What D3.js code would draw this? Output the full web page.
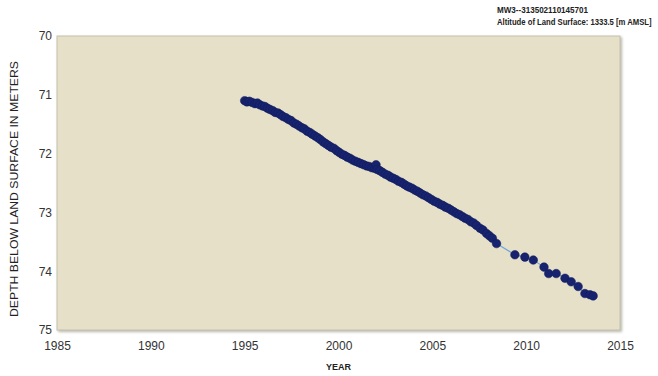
<!DOCTYPE html>
<html>
<head>
<meta charset="utf-8">
<script src="https://cdn.jsdelivr.net/npm/d3@7"></script>
<style>
  html, body { margin: 0; padding: 0; background: #fff; }
  svg { display: block; font-family: "Liberation Sans", Arial, sans-serif; }
</style>
</head>
<body>
<svg id="chart" width="658" height="376"></svg>
<script>
// Water-level measurements for well MW3 (decimal year, depth below land surface in m)
const years = [
  1995.00, 1995.12, 1995.25, 1995.40, 1995.55, 1995.68, 1995.80, 1995.95,
  1996.08, 1996.22, 1996.35, 1996.50, 1996.63, 1996.78, 1996.92,
  1997.05, 1997.20, 1997.34, 1997.48, 1997.62, 1997.76, 1997.90,
  1998.05, 1998.18, 1998.33, 1998.47, 1998.60, 1998.75, 1998.90,
  1999.03, 1999.18, 1999.32, 1999.46, 1999.60, 1999.75, 1999.90,
  2000.04, 2000.18, 2000.32, 2000.47, 2000.61, 2000.75, 2000.90,
  2001.05, 2001.20, 2001.35, 2001.50, 2001.64, 2001.78, 2001.92,
  2002.00, 2002.06, 2002.20, 2002.35, 2002.50, 2002.64, 2002.78, 2002.92,
  2003.06, 2003.20, 2003.35, 2003.50, 2003.64, 2003.78, 2003.92,
  2004.06, 2004.20, 2004.35, 2004.50, 2004.65, 2004.80, 2004.95,
  2005.10, 2005.25, 2005.40, 2005.55, 2005.70, 2005.85,
  2006.00, 2006.15, 2006.30, 2006.45, 2006.60, 2006.75, 2006.90,
  2007.05, 2007.20, 2007.35, 2007.54, 2007.70, 2007.89,
  2008.05, 2008.20, 2008.42,
  2009.40, 2009.93, 2010.38, 2010.95, 2011.20, 2011.60,
  2012.07, 2012.40, 2012.77, 2013.13, 2013.40, 2013.57
];
const depths = [
  71.10, 71.12, 71.11, 71.13, 71.15, 71.14, 71.17, 71.19,
  71.20, 71.23, 71.25, 71.27, 71.30, 71.31, 71.34,
  71.37, 71.39, 71.42, 71.44, 71.48, 71.50, 71.53,
  71.56, 71.58, 71.62, 71.64, 71.67, 71.70, 71.73,
  71.76, 71.80, 71.83, 71.86, 71.89, 71.91, 71.95,
  71.98, 72.01, 72.03, 72.06, 72.08, 72.11, 72.13,
  72.15, 72.17, 72.19, 72.21, 72.22, 72.24, 72.25,
  72.19, 72.27, 72.29, 72.32, 72.35, 72.37, 72.40, 72.42,
  72.44, 72.47, 72.49, 72.52, 72.55, 72.57, 72.59,
  72.62, 72.64, 72.67, 72.70, 72.72, 72.75, 72.78,
  72.81, 72.83, 72.86, 72.88, 72.91, 72.93,
  72.96, 72.99, 73.02, 73.04, 73.07, 73.10, 73.12,
  73.16, 73.18, 73.22, 73.27, 73.30, 73.36,
  73.40, 73.44, 73.53,
  73.72, 73.76, 73.81, 73.93, 74.04, 74.04,
  74.12, 74.18, 74.26, 74.38, 74.40, 74.42
];
const xTicks = [1985, 1990, 1995, 2000, 2005, 2010, 2015];
const yTicks = [70, 71, 72, 73, 74, 75];
const wellId = "MW3--313502110145701";
const altitudeLabel = "Altitude of Land Surface: 1333.5 [m AMSL]";
const xTitle = "YEAR";
const yTitle = "DEPTH BELOW LAND SURFACE  IN METERS";

const svg = d3.select("#chart");
const plot = { left: 57, right: 620, top: 36, bottom: 330 };

const x = d3.scaleLinear().domain([1985, 2015]).range([plot.left, plot.right]);
const y = d3.scaleLinear().domain([70, 75]).range([plot.top, plot.bottom]);

// drop shadow behind the plotting panel
const defs = svg.append("defs");
const f = defs.append("filter").attr("id", "shadow")
  .attr("x", "-5%").attr("y", "-5%").attr("width", "110%").attr("height", "110%");
f.append("feDropShadow").attr("dx", 1.5).attr("dy", 1.5)
  .attr("stdDeviation", 1.2).attr("flood-color", "#8a8878").attr("flood-opacity", 0.6);

svg.append("rect")
  .attr("x", plot.left).attr("y", plot.top)
  .attr("width", plot.right - plot.left).attr("height", plot.bottom - plot.top)
  .attr("fill", "#e5e0c7")
  .attr("stroke", "#c4c1b0").attr("stroke-width", 1)
  .attr("filter", "url(#shadow)");

// axes: labels only, no tick marks or domain lines
const yAxis = svg.append("g")
  .attr("transform", `translate(${plot.left - 5},0)`)
  .call(d3.axisLeft(y).tickValues(yTicks).tickSize(0).tickPadding(0).tickFormat(d3.format("d")));
yAxis.select(".domain").remove();
yAxis.selectAll("text")
  .attr("font-size", 12).attr("fill", "#333")
  .attr("font-family", "Liberation Sans, Arial, sans-serif");

const xAxis = svg.append("g")
  .attr("transform", `translate(0,${plot.bottom + 11})`)
  .call(d3.axisBottom(x).tickValues(xTicks).tickSize(0).tickPadding(0).tickFormat(d3.format("d")));
xAxis.select(".domain").remove();
xAxis.selectAll("text")
  .attr("font-size", 12).attr("fill", "#333")
  .attr("font-family", "Liberation Sans, Arial, sans-serif");

// axis titles
svg.append("text")
  .attr("x", x(2000)).attr("y", 370)
  .attr("text-anchor", "middle")
  .attr("font-size", 9).attr("font-weight", "bold").attr("fill", "#222")
  .text(xTitle);

svg.append("text")
  .attr("transform", `translate(18,${(plot.top + plot.bottom) / 2 + 6}) rotate(-90)`)
  .attr("text-anchor", "middle")
  .attr("font-size", 10.5).attr("fill", "#222")
  .attr("textLength", 256).attr("lengthAdjust", "spacingAndGlyphs")
  .text(yTitle);

// header, horizontally condensed
svg.append("text")
  .attr("transform", "translate(497,13) scale(0.95,1)")
  .attr("font-size", 8.5).attr("font-weight", "bold").attr("fill", "#222")
  .text(wellId);
svg.append("text")
  .attr("transform", "translate(497,25) scale(0.81,1)")
  .attr("font-size", 9.5).attr("font-weight", "bold").attr("fill", "#222")
  .text(altitudeLabel);

// series
const pts = years.map((yr, i) => ({ yr, d: depths[i] }));

svg.append("path")
  .datum(pts)
  .attr("fill", "none")
  .attr("stroke", "#6fa6e0")
  .attr("stroke-width", 1.2)
  .attr("d", d3.line().x(p => x(p.yr)).y(p => y(p.d)));

svg.append("g")
  .selectAll("circle")
  .data(pts)
  .join("circle")
  .attr("cx", p => x(p.yr))
  .attr("cy", p => y(p.d))
  .attr("r", 4.3)
  .attr("fill", "#17236e")
  .attr("stroke", "#101a5a")
  .attr("stroke-width", 0.5);
</script>
</body>
</html>
